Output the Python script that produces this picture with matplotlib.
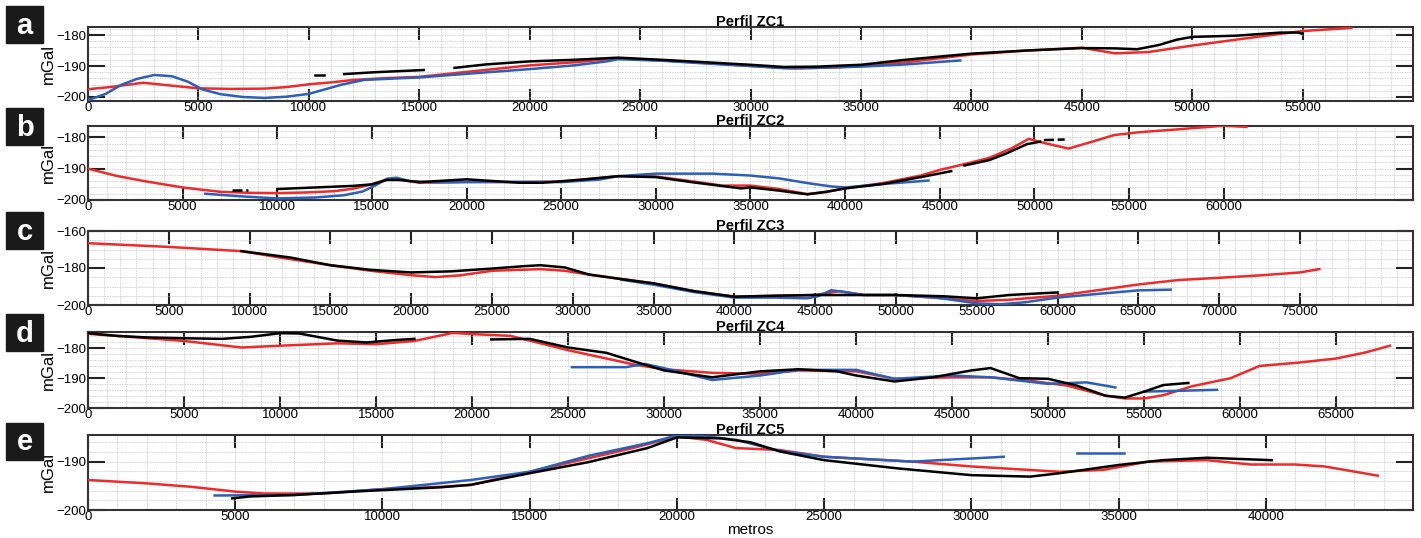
"""Perfil ZC1..ZC5 - gravity profiles (mGal vs metros), five stacked panels."""
import matplotlib

matplotlib.use("Agg")
import matplotlib.pyplot as plt
from matplotlib.ticker import MultipleLocator

plt.rcParams["font.family"] = ["Liberation Sans", "DejaVu Sans"]

C_RED = "#ee2b2b"
C_BLUE = "#2c5fb8"
C_BLACK = "#000000"

# ---------------- panel a : Perfil ZC1 ----------------
a_red_x = [0, 1000, 2500, 4000, 5000, 6500, 8000, 9000, 10000, 11000, 12000, 13500, 15000, 17000,
           20000, 22000, 24000, 26000, 28000, 30000, 32000, 34000, 35000, 37000, 40000, 42500,
           45000, 46500, 48000, 50000, 52500, 55000, 57200]
a_red_y = [-197.5, -196.8, -195.4, -196.5, -197.2, -197.4, -197.3, -196.8, -195.9, -195.3, -194.5,
           -193.9, -193.5, -192.0, -189.8, -188.8, -187.5, -188.2, -189.0, -190.0, -190.8, -190.4,
           -190.0, -188.8, -186.3, -185.0, -184.1, -185.9, -185.5, -183.4, -181.0, -178.7, -177.7]
a_blue_x = [0, 800, 1500, 2200, 3000, 3800, 4500, 5200, 6000, 7000, 8000, 9000, 10000, 11000,
            11500, 12500, 14000, 15000, 17000, 20000, 22000, 23500, 24000, 26000, 28000, 30000,
            31500, 33000, 35000, 37000, 39500]
a_blue_y = [-201.0, -199.0, -196.1, -194.2, -192.9, -193.3, -195.0, -197.6, -199.1, -200.0, -200.3,
            -199.9, -199.0, -197.0, -196.0, -194.5, -194.0, -193.7, -192.6, -191.0, -189.8, -188.5,
            -187.8, -188.3, -189.2, -190.0, -190.7, -190.6, -190.2, -189.5, -188.2]
a_black_segments = [
    ([10300, 10700], [-192.8, -192.8]),
    ([11600, 13000, 15200], [-192.6, -192.0, -191.3]),
    ([16600, 18000, 20000, 22000, 24000, 26000, 28000, 30000, 31500, 33000, 35000, 37000, 40000,
      42500, 45000, 46500, 47500, 48500, 49300, 50000, 52000, 54000, 54800, 55000],
     [-190.6, -189.5, -188.5, -188.0, -187.3, -188.0, -188.8, -189.6, -190.3, -190.2, -189.6,
      -188.0, -186.0, -185.0, -184.2, -184.3, -184.6, -183.2, -181.5, -180.6, -180.2, -179.2,
      -179.2, -179.6]),
]

# ---------------- panel b : Perfil ZC2 ----------------
b_red_x = [0, 1500, 3000, 5000, 7000, 8500, 10000, 11500, 13000, 14000, 15000, 15800, 16500, 17500,
           20000, 22500, 25000, 27000, 28000, 30000, 32000, 33500, 35000, 36500, 38000, 39000, 40000,
           42000, 44000, 45000, 46000, 47600, 48800, 49700, 50500, 51800, 53000, 54200, 55500,
           57300, 60000, 61200]
b_red_y = [-190.0, -192.3, -194.0, -196.0, -197.4, -197.7, -197.8, -197.6, -197.2, -196.4, -195.0,
           -193.4, -193.6, -194.5, -194.2, -194.3, -194.1, -193.0, -192.4, -192.5, -194.1, -195.4,
           -195.4, -196.5, -198.1, -197.4, -196.3, -194.6, -192.2, -190.4, -189.0, -186.6, -183.5,
           -180.5, -181.8, -183.6, -181.5, -179.3, -178.4, -177.6, -176.3, -176.7]
b_blue_x = [6200, 8000, 10000, 12000, 13500, 14500, 15200, 15800, 16300, 17000, 18500, 20000, 22500,
            25000, 27000, 28000, 30000, 33000, 35000, 36500, 38000, 39300, 40000, 42000, 44400]
b_blue_y = [-198.0, -198.8, -199.5, -199.2, -198.5, -197.3, -195.3, -193.2, -192.9, -194.0, -194.4,
            -194.3, -194.2, -194.3, -193.5, -192.4, -191.6, -191.6, -192.2, -193.1, -194.6, -195.7,
            -196.0, -194.9, -193.8]
b_black_segments = [
    ([10000, 12000, 14000, 15000, 15800, 16500, 17500, 20000, 22800, 24000, 26100, 28000, 30000,
      32000, 34500, 35000, 36500, 38000, 39000, 40000, 42000, 44000, 45600],
     [-196.5, -196.0, -195.5, -195.0, -193.6, -193.6, -194.3, -193.4, -194.5, -194.5, -193.5,
      -192.4, -192.7, -194.4, -196.3, -196.0, -197.0, -198.2, -197.4, -196.3, -194.9, -192.7,
      -190.8]),
    ([46300, 47600, 48500, 49600, 50300], [-189.0, -187.3, -185.2, -182.2, -181.4]),
]
b_black_dash = [([7600, 8450], [-196.8, -196.8]), ([50500, 51600], [-180.9, -180.7])]

# ---------------- panel c : Perfil ZC3 ----------------
c_red_x = [0, 5000, 9500, 12000, 15000, 17500, 20000, 21500, 23000, 25000, 28000, 29500, 31000,
           33000, 35000, 37500, 40000, 42500, 45000, 46500, 48000, 50000, 53000, 55000, 57000,
           60000, 62500, 65000, 67500, 70000, 72500, 75000, 76200]
c_red_y = [-166.6, -168.6, -170.9, -174.5, -178.5, -181.5, -183.9, -184.9, -184.0, -181.5, -180.6,
           -181.5, -183.6, -185.9, -188.3, -192.5, -195.5, -195.0, -194.6, -192.5, -194.6, -194.6,
           -196.5, -197.8, -197.2, -195.0, -192.0, -188.9, -186.5, -185.3, -184.0, -182.4, -180.6]
c_blue_x = [33000, 35000, 37500, 40000, 42500, 44500, 45200, 46000, 47000, 48000, 50000, 52500,
            55000, 56500, 58000, 60000, 62500, 65000, 67000]
c_blue_y = [-186.3, -189.0, -193.0, -196.0, -196.0, -196.4, -195.2, -192.0, -193.2, -194.6, -194.6,
            -196.0, -199.1, -199.6, -198.5, -196.0, -194.0, -192.1, -191.7]
c_black_segments = [
    ([9500, 12500, 15000, 17500, 20000, 22500, 25000, 27000, 28000, 29500, 31000, 33000, 35000,
      37500, 40000, 42500, 45000, 47000, 50000, 53000, 55000, 57000, 60000],
     [-170.9, -174.3, -178.5, -181.0, -182.4, -181.8, -180.3, -179.0, -178.5, -179.7, -183.5,
      -186.0, -188.3, -192.5, -195.5, -195.0, -194.6, -194.6, -194.6, -195.3, -196.4, -194.6,
      -193.2]),
]

# ---------------- panel d : Perfil ZC4 ----------------
d_red_x = [0, 2500, 5000, 8000, 10000, 13000, 15000, 17000, 19000, 20000, 22000, 25000, 27000,
           28500, 30000, 32500, 35000, 37000, 40000, 42000, 45000, 47000, 49000, 51000, 53000,
           54000, 55000, 56000, 57500, 59500, 61000, 63000, 65000, 66500, 67800]
d_red_y = [-175.1, -176.3, -177.5, -179.7, -179.1, -178.3, -178.6, -177.5, -174.8, -175.2, -175.8,
           -180.6, -183.4, -185.5, -187.0, -188.2, -188.5, -187.4, -187.7, -190.2, -189.7, -189.7,
           -190.8, -192.5, -195.9, -196.8, -196.8, -195.7, -192.7, -190.0, -185.9, -184.8, -183.4,
           -181.4, -179.1]
d_blue_segments = [
    ([25200, 28000, 29000, 30500, 32500, 35000, 37000, 40000, 42000, 45000, 47000, 50000, 52000,
      53500],
     [-186.3, -186.3, -185.2, -187.4, -190.6, -189.1, -187.2, -187.2, -190.2, -189.1, -189.7,
      -191.9, -191.4, -193.1]),
    ([55000, 57000, 58800], [-194.5, -194.2, -193.9]),
]
d_black_segments = [
    ([0, 1500, 3000, 5000, 7000, 8500, 10000, 11000, 12000, 13000, 14500, 16000, 17000],
     [-174.9, -175.8, -176.3, -176.6, -176.8, -176.1, -174.9, -175.0, -176.2, -177.4, -178.0,
      -177.2, -176.8]),
    ([21000, 23000, 25000, 27000, 28500, 30000, 32500, 35000, 37000, 39000, 40000, 42000, 44000,
      46000, 47000, 48500, 50000, 51500, 53000, 54000, 55000, 56000, 57300],
     [-177.0, -176.8, -179.7, -181.5, -184.5, -187.4, -189.7, -187.7, -187.0, -187.7, -189.1,
      -191.1, -189.7, -187.4, -186.6, -190.0, -190.2, -192.5, -195.9, -196.5, -194.5, -192.3,
      -191.6]),
]

# ---------------- panel e : Perfil ZC5 ----------------
e_red_x = [0, 2000, 3500, 5000, 6000, 8000, 10000, 12000, 13000, 15000, 17000, 18500, 20000, 21000,
           22000, 23500, 25000, 28000, 30000, 33000, 34500, 36000, 38000, 39500, 41000, 42000, 43800]
e_red_y = [-193.8, -194.5, -195.2, -196.2, -196.6, -196.6, -195.7, -195.2, -194.8, -192.1, -189.3,
           -187.2, -184.8, -185.5, -187.2, -187.6, -189.0, -190.0, -191.0, -192.1, -191.7, -190.0,
           -189.7, -190.6, -190.6, -191.0, -192.9]
e_blue_segments = [
    ([4300, 7000, 10000, 13000, 15000, 17000, 19000, 20000, 21000, 22000, 23500, 25000, 28000,
      31100],
     [-197.0, -196.9, -195.7, -193.8, -192.1, -188.8, -186.2, -184.6, -184.8, -185.5, -187.8,
      -189.0, -190.0, -189.0]),
    ([33600, 35200], [-188.3, -188.3]),
]
e_black_segments = [
    ([4900, 5500, 7000, 9000, 12000, 13000, 15000, 17000, 19000, 20000, 21500, 22500, 23500, 25000,
      27500, 30000, 32000, 33000, 35000, 36500, 38000, 40200],
     [-197.6, -197.2, -196.9, -196.2, -195.3, -194.8, -192.4, -190.1, -187.2, -185.0, -185.2,
      -186.0, -187.9, -189.7, -191.4, -192.8, -193.1, -192.4, -190.7, -189.7, -189.2, -189.7]),
]

PANELS = [
    dict(letter="a", title="Perfil ZC1", xlim=(0, 60000), xmax_tick=55000, ylim=(-201.3, -177.4),
         yticks=[-200, -190, -180], yminor=2,
         red=(a_red_x, a_red_y), blue=[(a_blue_x, a_blue_y)], black=a_black_segments, dash=[]),
    dict(letter="b", title="Perfil ZC2", xlim=(0, 70000), xmax_tick=60000, ylim=(-200, -176.4),
         yticks=[-200, -190, -180], yminor=2,
         red=(b_red_x, b_red_y), blue=[(b_blue_x, b_blue_y)], black=b_black_segments, dash=b_black_dash),
    dict(letter="c", title="Perfil ZC3", xlim=(0, 82000), xmax_tick=75000, ylim=(-200, -160),
         yticks=[-200, -180, -160], yminor=5,
         red=(c_red_x, c_red_y), blue=[(c_blue_x, c_blue_y)], black=c_black_segments, dash=[]),
    dict(letter="d", title="Perfil ZC4", xlim=(0, 69000), xmax_tick=65000, ylim=(-200, -174.5),
         yticks=[-200, -190, -180], yminor=2,
         red=(d_red_x, d_red_y), blue=d_blue_segments, black=d_black_segments, dash=[]),
    dict(letter="e", title="Perfil ZC5", xlim=(0, 45000), xmax_tick=40000, ylim=(-200, -184.5),
         yticks=[-200, -190], yminor=2,
         red=(e_red_x, e_red_y), blue=e_blue_segments, black=e_black_segments, dash=[]),
]

# axes boxes in pixels (top, bottom) and letter boxes (top) - figure is 1421 x 538
W, H = 1421, 538
AX_TB = [(27, 101), (126, 200), (231, 305), (332, 408), (435, 510)]
BOX_TOP = [6, 108, 212, 314, 423]
LEFT, RIGHT = 88, 1413

fig = plt.figure(figsize=(W / 100, H / 100), dpi=100)

for p, (top, bot), btop in zip(PANELS, AX_TB, BOX_TOP):
    ax = fig.add_axes([LEFT / W, 1 - bot / H, (RIGHT - LEFT) / W, (bot - top) / H])
    rx, ry = p["red"]
    ax.plot(rx, ry, color=C_RED, lw=1.8, zorder=3)
    for bx, by in p["blue"]:
        ax.plot(bx, by, color=C_BLUE, lw=1.8, zorder=4)
    for kx, ky in p["black"]:
        ax.plot(kx, ky, color=C_BLACK, lw=1.8, zorder=5)
    for kx, ky in p["dash"]:
        ax.plot(kx, ky, color=C_BLACK, lw=1.8, ls=(0, (4, 1.5)), zorder=5)

    ax.set_xlim(*p["xlim"])
    ax.set_ylim(*p["ylim"])
    ax.set_xticks(list(range(0, p["xmax_tick"] + 1, 5000)))
    ax.set_yticks(p["yticks"])
    ax.xaxis.set_minor_locator(MultipleLocator(1000))
    ax.yaxis.set_minor_locator(MultipleLocator(p["yminor"]))
    ax.grid(which="both", color="#c4c4c4", ls=(0, (1, 1)), lw=0.6)
    ax.tick_params(axis="x", which="major", direction="in", length=9, width=1.5, top=True,
                   labelsize=9.5, pad=1, color="#222222")
    ax.tick_params(axis="y", which="major", direction="in", length=12, width=1.5, right=True,
                   labelsize=9.5, pad=1, color="#222222")
    ax.tick_params(which="minor", length=0)
    for s in ax.spines.values():
        s.set_color("#333333")
        s.set_linewidth(1.5)
    ax.set_ylabel("mGal", fontsize=12)
    ax.yaxis.set_label_coords(-0.024, 0.5)
    ax.set_title(p["title"], fontsize=10.5, fontweight="bold", pad=0.5)

    # black letter box
    bs = 37
    fig.patches.append(plt.Rectangle((6 / W, 1 - (btop + bs) / H), bs / W, bs / H,
                                     transform=fig.transFigure, color="#1a1a1a"))
    fig.text((6 + bs / 2) / W, 1 - (btop + bs / 2 + 1) / H, p["letter"], color="white",
             fontsize=21, fontweight="bold", ha="center", va="center")

fig.axes[-1].set_xlabel("metros", fontsize=11, labelpad=0)

fig.savefig("out.png", dpi=100)
